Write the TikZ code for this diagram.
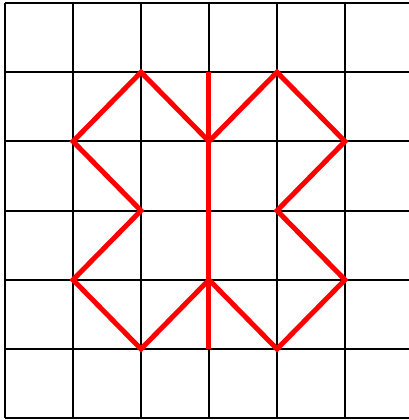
\documentclass[tikz,border=0pt]{standalone}
\begin{document}
\begin{tikzpicture}[x=34pt,y=-34.6pt,
  gridline/.style={black, line width=1pt},
  redline/.style={red, line width=2.5pt}]
\useasboundingbox (-0.0735,-0.0434) rectangle (5.941,6.026);
% grid
\foreach \i in {0,...,5}
  \draw[gridline] (\i,0) -- (\i,6);
\foreach \j in {0,...,6}
  \draw[gridline] (0,\j) -- (5.941,\j);
% red figure
\coordinate (top) at (3,1);
\coordinate (bottom) at (3,5);
\draw[redline] (2,1) -- (1,2) -- (2,3) -- (1,4) -- (2,5) -- (3,4) -- (4,5)
  -- (5,4) -- (4,3) -- (5,2) -- (4,1) -- (3,2) -- cycle;
\draw[redline] (top) -- (bottom);
\end{tikzpicture}
\end{document}
